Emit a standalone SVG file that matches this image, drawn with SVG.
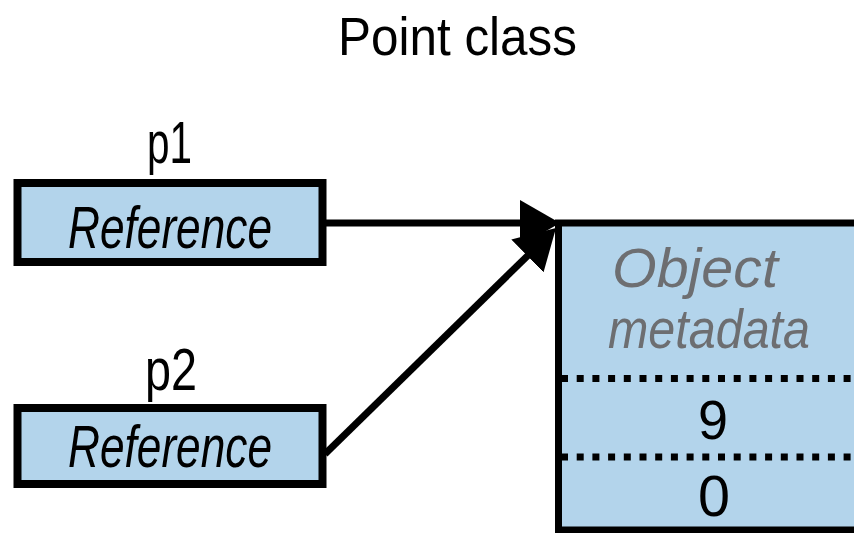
<svg xmlns="http://www.w3.org/2000/svg" width="854" height="533" viewBox="0 0 854 533">
  <defs>
    <style>
      .box { fill: #b3d4eb; stroke: #000; stroke-width: 8; }
      .obj { fill: #b3d4eb; stroke: #000; stroke-width: 7; }
      .lbl { font-family: "Liberation Sans", Arial, sans-serif; fill: #000; text-anchor: middle; }
      .ital { font-family: "Liberation Sans", Arial, sans-serif; font-style: italic; text-anchor: middle; }
      .conn { stroke: #000; stroke-width: 7; fill: none; }
      .dots { stroke: #000; stroke-width: 7; stroke-dasharray: 7 8.7; fill: none; }
    </style>
    <marker id="head" viewBox="0 0 40 46" refX="20" refY="23" markerWidth="40" markerHeight="46" markerUnits="userSpaceOnUse" orient="auto">
      <path d="M0,0 L40,23 L0,46 z" fill="#000"/>
    </marker>
  </defs>

  <text class="lbl" x="457.5" y="55" font-size="54" textLength="239" lengthAdjust="spacingAndGlyphs">Point class</text>

  <g id="p1">
    <text class="lbl" x="169.5" y="163" font-size="60" textLength="45" lengthAdjust="spacingAndGlyphs">p1</text>
    <rect class="box" x="17.5" y="183" width="305" height="79"/>
    <text class="ital" x="170" y="248" font-size="60" fill="#000" textLength="204" lengthAdjust="spacingAndGlyphs">Reference</text>
  </g>

  <g id="p2">
    <text class="lbl" x="171" y="390" font-size="60" textLength="52" lengthAdjust="spacingAndGlyphs">p2</text>
    <rect class="box" x="17.5" y="408" width="305" height="76"/>
    <text class="ital" x="170" y="467" font-size="60" fill="#000" textLength="204" lengthAdjust="spacingAndGlyphs">Reference</text>
  </g>

  <g id="point-object">
    <rect class="obj" x="558.5" y="223" width="320" height="307"/>
    <text class="ital" x="695" y="287" font-size="56" fill="#6d6e71" textLength="166" lengthAdjust="spacingAndGlyphs">Object</text>
    <text class="ital" x="709" y="348" font-size="56" fill="#6d6e71" textLength="202" lengthAdjust="spacingAndGlyphs">metadata</text>
    <line class="dots" x1="561" y1="378.5" x2="854" y2="378.5"/>
    <text class="lbl" x="713" y="439" font-size="56" textLength="30" lengthAdjust="spacingAndGlyphs">9</text>
    <line class="dots" x1="561" y1="457" x2="854" y2="457"/>
    <text class="lbl" x="714" y="516" font-size="58" textLength="32" lengthAdjust="spacingAndGlyphs">0</text>
  </g>

  <g id="connectors">
    <line class="conn" x1="326" y1="223" x2="540" y2="223" marker-end="url(#head)"/>
    <line class="conn" x1="325" y1="454" x2="541.7" y2="242" marker-end="url(#head)"/>
  </g>
</svg>
